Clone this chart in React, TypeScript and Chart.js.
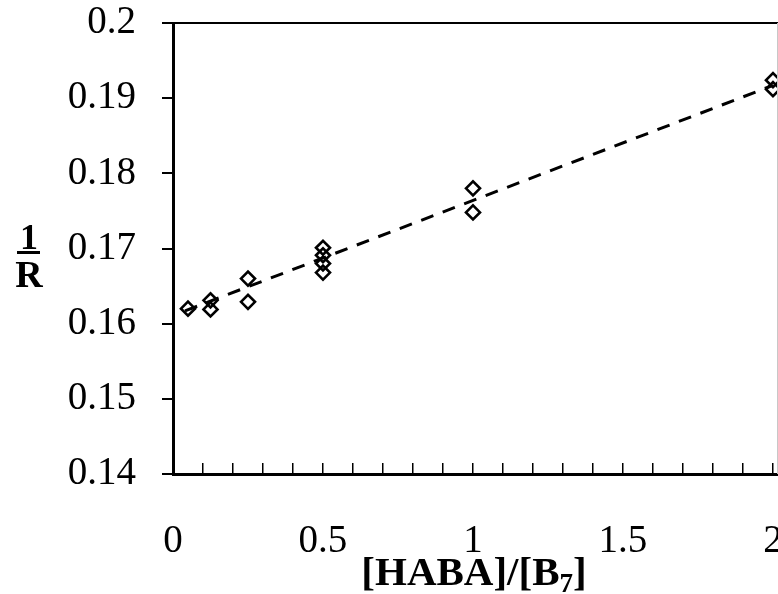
import React, { useEffect, useRef } from 'react';
import { Chart, registerables } from 'chart.js';

Chart.register(...registerables);

// Measured data: [HABA]/[B7] ratio vs 1/R
const ratioX = [0.05, 0.125, 0.125, 0.25, 0.25, 0.5, 0.5, 0.5, 0.5, 1, 1, 2, 2];
const invR = [0.162, 0.1631, 0.1619, 0.166, 0.1629, 0.1701, 0.1691, 0.168, 0.1668, 0.178, 0.1748, 0.1924, 0.1912];

// Linear fit (dashed)
const fitX = [0.04, 2];
const fitY = [0.1617, 0.1917];

const xLabelValues = [0, 0.5, 1, 1.5, 2];
const yMin = 0.14;
const yMax = 0.2;
const yStep = 0.01;
const xMin = 0;
const xMax = 2.0167;
const xStep = 0.1;

const xTitleMain = '[HABA]/[B';
const xTitleSub = '7';
const xTitleEnd = ']';
const yTitleTop = '1';
const yTitleBottom = 'R';

const SERIF = '"Liberation Serif", "Times New Roman", serif';

const decorPlugin = {
  id: 'decor',
  afterDraw(chart: any) {
    const { ctx, chartArea } = chart;
    ctx.save();
    // frame top & right
    ctx.strokeStyle = '#000';
    ctx.lineWidth = 2;
    ctx.beginPath();
    ctx.moveTo(chartArea.left, chartArea.top);
    ctx.lineTo(chart.width, chartArea.top);
    ctx.stroke();
    ctx.strokeStyle = '#c8c8c8';
    ctx.lineWidth = 1;
    ctx.beginPath();
    ctx.moveTo(777.5, chartArea.top);
    ctx.lineTo(777.5, chartArea.bottom);
    ctx.stroke();

    // x title with subscript
    ctx.fillStyle = '#000';
    const mainFont = `bold 41px ${SERIF}`;
    const subFont = `bold 27px ${SERIF}`;
    ctx.font = mainFont;
    const w1 = ctx.measureText(xTitleMain).width;
    const w3 = ctx.measureText(xTitleEnd).width;
    ctx.font = subFont;
    const w2 = ctx.measureText(xTitleSub).width;
    const total = w1 + w2 + w3;
    const cx = 474;
    let x = cx - total / 2;
    const base = 585;
    ctx.textBaseline = 'alphabetic';
    ctx.textAlign = 'left';
    ctx.font = mainFont;
    ctx.fillText(xTitleMain, x, base);
    x += w1;
    ctx.font = subFont;
    ctx.fillText(xTitleSub, x, base + 7);
    x += w2;
    ctx.font = mainFont;
    ctx.fillText(xTitleEnd, x, base);

    // y title as fraction 1/R
    const fx = 29;
    ctx.textAlign = 'center';
    ctx.font = `bold 36px ${SERIF}`;
    ctx.fillText(yTitleTop, fx, 249);
    ctx.fillRect(17, 251, 23, 3);
    ctx.font = `bold 38px ${SERIF}`;
    ctx.fillText(yTitleBottom, fx, 287);
    ctx.restore();
  },
};

export default function App() {
  const canvasRef = useRef<HTMLCanvasElement | null>(null);

  useEffect(() => {
    const canvas = canvasRef.current;
    if (!canvas) return;
    const points = ratioX.map((x, i) => ({ x, y: invR[i] }));
    const fit = fitX.map((x, i) => ({ x, y: fitY[i] }));
    const chart = new Chart(canvas, {
      type: 'scatter',
      data: {
        datasets: [
          {
            label: 'data',
            data: points,
            pointStyle: 'rectRot',
            pointRadius: 7,
            pointBorderWidth: 2.6,
            borderColor: '#000',
            backgroundColor: 'rgba(0,0,0,0)',
            order: 1,
          },
          {
            label: 'fit',
            data: fit,
            showLine: true,
            borderColor: '#000',
            borderWidth: 3,
            borderDash: [13, 10],
            pointRadius: 0,
            order: 2,
          } as any,
        ],
      },
      plugins: [decorPlugin],
      options: {
        animation: false,
        responsive: false,
        maintainAspectRatio: false,
        layout: { autoPadding: false, padding: { left: 0, top: 23, right: 0, bottom: 0 } },
        plugins: { legend: { display: false }, tooltip: { enabled: false } },
        scales: {
          x: {
            type: 'linear',
            position: 'bottom',
            min: xMin,
            max: xMax,
            ticks: {
              stepSize: xStep,
              autoSkip: false,
              includeBounds: false,
              maxRotation: 0,
              minRotation: 0,
              padding: 55,
              color: '#000',
              font: { family: SERIF, size: 39 },
              callback: (value: any) => {
                const v = Math.round(Number(value) * 10) / 10;
                return xLabelValues.some((l) => Math.abs(l - v) < 1e-6) ? String(v) : '';
              },
            },
            grid: {
              drawOnChartArea: false,
              drawTicks: true,
              tickLength: -11,
              color: '#000',
              lineWidth: 1.5,
            },
            border: { display: true, color: '#000', width: 3 },
            afterFit: (s: any) => {
              s.height = 120;
              s.paddingLeft = 0;
              s.paddingRight = 0;
            },
          },
          y: {
            type: 'linear',
            position: 'left',
            min: yMin,
            max: yMax,
            ticks: {
              stepSize: yStep,
              padding: 26,
              color: '#000',
              font: { family: SERIF, size: 39 },
              callback: (value: any) => String(Number(Number(value).toFixed(2))),
            },
            grid: {
              drawOnChartArea: false,
              drawTicks: true,
              tickLength: 11,
              color: '#000',
              lineWidth: 2,
            },
            border: { display: true, color: '#000', width: 3 },
            afterFit: (s: any) => {
              s.width = 173;
              s.paddingTop = 0;
              s.paddingBottom = 0;
            },
          },
        },
      } as any,
    });
    return () => chart.destroy();
  }, []);

  return (
    <div style={{ position: 'absolute', left: 0, top: 0, width: 778, height: 594, overflow: 'hidden', background: '#fff' }}>
      <canvas ref={canvasRef} width={778} height={594} style={{ display: 'block' }} />
    </div>
  );
}
